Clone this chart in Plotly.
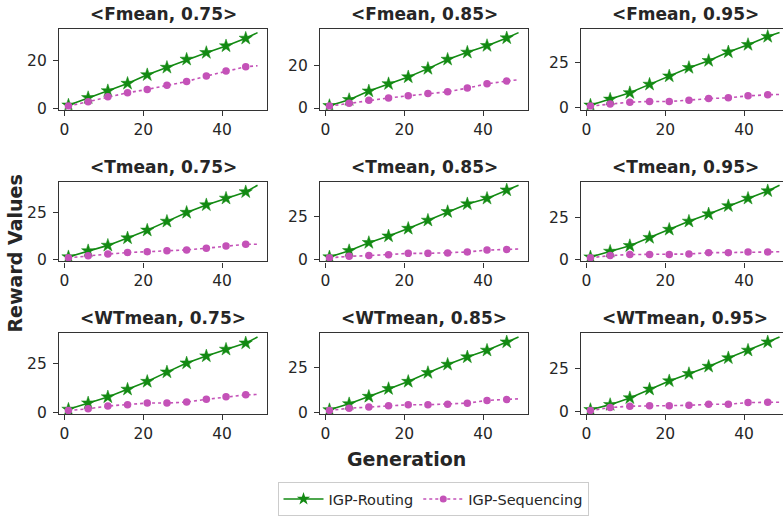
import plotly.graph_objects as go

# Generations at which the averaged rewards are recorded (markers every 5 generations,
# plus the final generation where the curve ends)
generations = [1, 6, 11, 16, 21, 26, 31, 36, 41, 46, 49]

fmean_075_routing = [1.4, 4.5, 7.4, 10.5, 14.1, 17.2, 20.6, 23.4, 26.2, 29.4, 31.8]
fmean_075_sequencing = [1.0, 2.8, 4.9, 6.6, 8.0, 9.7, 11.3, 13.6, 15.7, 17.5, 17.9]
fmean_085_routing = [1.1, 3.9, 7.9, 11.3, 14.5, 18.4, 22.7, 26.0, 29.1, 32.7, 35.2]
fmean_085_sequencing = [0.9, 2.2, 3.6, 4.7, 5.7, 6.8, 7.6, 9.3, 11.3, 12.6, 13.2]
fmean_095_routing = [1.3, 4.6, 8.2, 12.9, 17.5, 22.2, 26.1, 30.9, 35.0, 39.5, 41.7]
fmean_095_sequencing = [0.8, 2.0, 3.0, 3.4, 3.4, 4.1, 5.0, 5.4, 6.5, 7.1, 7.3]

tmean_075_routing = [1.5, 4.7, 7.6, 11.5, 15.6, 20.3, 25.0, 29.0, 32.5, 35.9, 39.4]
tmean_075_sequencing = [1.0, 2.1, 3.0, 3.8, 4.3, 4.7, 5.2, 6.1, 7.3, 8.2, 8.2]
tmean_085_routing = [1.5, 5.1, 9.8, 13.6, 18.0, 22.7, 27.7, 32.2, 35.4, 40.2, 43.0]
tmean_085_sequencing = [1.0, 1.9, 2.3, 2.8, 3.6, 3.6, 3.8, 4.4, 5.5, 5.9, 6.1]
tmean_095_routing = [1.5, 4.9, 8.3, 13.2, 18.1, 23.0, 27.4, 32.3, 36.8, 41.3, 44.7]
tmean_095_sequencing = [1.0, 2.4, 3.0, 3.0, 3.0, 3.3, 4.1, 4.1, 4.5, 4.5, 4.7]

wtmean_075_routing = [1.4, 4.6, 7.7, 11.6, 15.6, 20.4, 25.0, 28.6, 32.0, 35.2, 38.3]
wtmean_075_sequencing = [0.8, 1.7, 3.1, 3.7, 4.6, 4.6, 5.1, 6.5, 7.8, 8.8, 9.0]
wtmean_085_routing = [1.3, 4.6, 8.7, 13.0, 17.0, 21.9, 26.5, 30.6, 34.3, 38.9, 41.7]
wtmean_085_sequencing = [0.9, 2.2, 2.8, 3.5, 4.1, 4.1, 4.4, 5.0, 6.5, 7.0, 7.4]
wtmean_095_routing = [1.3, 4.2, 8.1, 13.1, 17.9, 22.1, 26.3, 31.2, 35.6, 40.4, 43.3]
wtmean_095_sequencing = [0.8, 2.5, 3.3, 3.5, 3.5, 3.8, 4.4, 4.4, 5.4, 5.6, 5.6]

panel_titles = [
    "<Fmean, 0.75>", "<Fmean, 0.85>", "<Fmean, 0.95>",
    "<Tmean, 0.75>", "<Tmean, 0.85>", "<Tmean, 0.95>",
    "<WTmean, 0.75>", "<WTmean, 0.85>", "<WTmean, 0.95>",
]
routing_series = [
    fmean_075_routing, fmean_085_routing, fmean_095_routing,
    tmean_075_routing, tmean_085_routing, tmean_095_routing,
    wtmean_075_routing, wtmean_085_routing, wtmean_095_routing,
]
sequencing_series = [
    fmean_075_sequencing, fmean_085_sequencing, fmean_095_sequencing,
    tmean_075_sequencing, tmean_085_sequencing, tmean_095_sequencing,
    wtmean_075_sequencing, wtmean_085_sequencing, wtmean_095_sequencing,
]
y_tick_steps = [20, 20, 25, 25, 25, 25, 25, 25, 25]
x_tick_values = [0, 20, 40]

GREEN = "#138a13"
PINK = "#c452b8"
TEXT = "#262626"
FRAME = "#333333"
FONT = "DejaVu Sans"

W, H = 783, 516
col_px = [(59, 267), (320, 528), (581, 783)]
row_px = [(29, 110), (182, 262), (334, 415)]
# x scale (px per generation) shared by all panels
x_min = -1.4
px_per_gen = 208 / 52.8

fig = go.Figure()
layout = {}
annotations = []

for i, title in enumerate(panel_titles):
    r, c = divmod(i, 3)
    suffix = "" if i == 0 else str(i + 1)
    xa, ya = "x" + suffix, "y" + suffix
    routing = routing_series[i]
    sequencing = sequencing_series[i]

    fig.add_trace(go.Scatter(x=generations, y=routing, mode="lines",
                             line=dict(color=GREEN, width=1.6),
                             xaxis=xa, yaxis=ya, showlegend=False, hoverinfo="skip"))
    fig.add_trace(go.Scatter(x=generations[:-1], y=routing[:-1], mode="markers",
                             marker=dict(symbol="star", size=10, color=GREEN,
                                         line=dict(width=0.5, color=GREEN)),
                             xaxis=xa, yaxis=ya, showlegend=False))
    fig.add_trace(go.Scatter(x=generations, y=sequencing, mode="lines",
                             line=dict(color=PINK, width=1.6, dash="dot"),
                             xaxis=xa, yaxis=ya, showlegend=False, hoverinfo="skip"))
    fig.add_trace(go.Scatter(x=generations[:-1], y=sequencing[:-1], mode="markers",
                             marker=dict(symbol="circle", size=7.5, color=PINK),
                             xaxis=xa, yaxis=ya, showlegend=False))

    lo = min(min(routing), min(sequencing))
    hi = max(max(routing), max(sequencing))
    pad = 0.05 * (hi - lo)

    x0, x1 = col_px[c]
    y0, y1 = row_px[r]
    x_max = x_min + (x1 - x0) / px_per_gen

    layout["xaxis" + suffix] = dict(
        domain=[x0 / W, x1 / W], range=[x_min, x_max], anchor=ya,
        tickvals=x_tick_values, ticks="outside", ticklen=5, tickwidth=1.2,
        tickcolor=FRAME, showline=True, mirror=True, linecolor=FRAME, linewidth=1.3,
        showgrid=False, zeroline=False, automargin=False,
        tickfont=dict(family=FONT, size=15.5, color=TEXT),
    )
    layout["yaxis" + suffix] = dict(
        domain=[1 - y1 / H, 1 - y0 / H], range=[lo - pad, hi + pad], anchor=xa,
        dtick=y_tick_steps[i], tick0=0, ticks="outside", ticklen=5, tickwidth=1.2,
        tickcolor=FRAME, showline=True, mirror=True, linecolor=FRAME, linewidth=1.3,
        showgrid=False, zeroline=False, automargin=False, ticklabelstandoff=3,
        tickfont=dict(family=FONT, size=15.5, color=TEXT),
    )

    title_html = "<b>" + title.replace("<", "&lt;").replace(">", "&gt;") + "</b>"
    annotations.append(dict(
        text=title_html, xref="paper", yref="paper",
        x=(col_px[c][0] + 208 / 2) / W, y=1 - (y0 - 15) / H,
        xanchor="center", yanchor="middle", showarrow=False,
        font=dict(family=FONT, size=17, color=TEXT),
    ))

annotations.append(dict(
    text="<b>Reward Values</b>", xref="paper", yref="paper",
    x=15 / W, y=1 - 254 / H, textangle=-90, xanchor="center", yanchor="middle",
    showarrow=False, font=dict(family=FONT, size=19, color=TEXT),
))
annotations.append(dict(
    text="<b>Generation</b>", xref="paper", yref="paper",
    x=406 / W, y=1 - 460 / H, xanchor="center", yanchor="middle",
    showarrow=False, font=dict(family=FONT, size=19, color=TEXT),
))

# Legend entries
fig.add_trace(go.Scatter(x=[None], y=[None], mode="lines+markers", name="IGP-Routing",
                         line=dict(color=GREEN, width=1.6),
                         marker=dict(symbol="star", size=10, color=GREEN)))
fig.add_trace(go.Scatter(x=[None], y=[None], mode="lines+markers", name="IGP-Sequencing",
                         line=dict(color=PINK, width=1.6, dash="dot"),
                         marker=dict(symbol="circle", size=7, color=PINK)))

fig.update_layout(
    width=W, height=H,
    margin=dict(l=0, r=0, t=0, b=0),
    paper_bgcolor="white", plot_bgcolor="white",
    annotations=annotations,
    legend=dict(orientation="h", x=433 / W, xanchor="center",
                y=1 - 500 / H, yanchor="middle",
                bordercolor="#cccccc", borderwidth=1,
                font=dict(family=FONT, size=14.5, color=TEXT),
                itemwidth=40),
    **layout,
)

fig.write_html("out.html")
